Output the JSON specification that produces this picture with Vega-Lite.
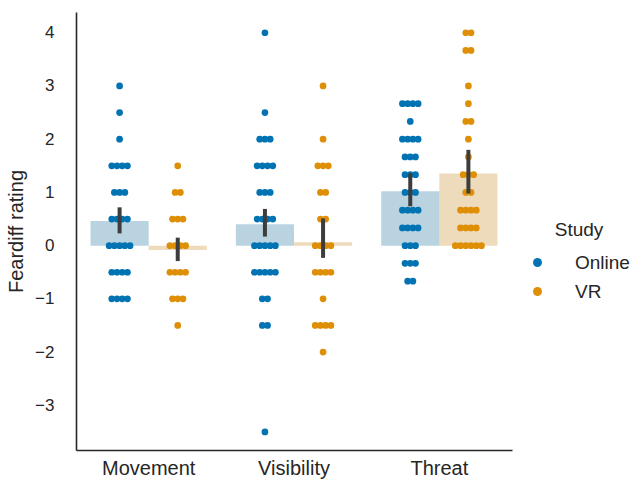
{
  "$schema": "https://vega.github.io/schema/vega-lite/v6.json",
  "width": 436,
  "height": 438,
  "autosize": "none",
  "padding": {"left": 76, "top": 12, "right": 122, "bottom": 29},
  "config": {
    "font": "Liberation Sans",
    "view": {"stroke": null},
    "axis": {"grid": false, "domainColor": "#262626", "domainWidth": 1.6, "ticks": false, "labelColor": "#262626", "titleColor": "#262626", "titleFontWeight": "normal"}
  },
  "datasets": {
    "errors": [
      {"category":"Movement","study":"Online","low":0.23,"high":0.72},
      {"category":"Movement","study":"VR","low":-0.29,"high":0.15},
      {"category":"Visibility","study":"Online","low":0.17,"high":0.69},
      {"category":"Visibility","study":"VR","low":-0.23,"high":0.51},
      {"category":"Threat","study":"Online","low":0.74,"high":1.36},
      {"category":"Threat","study":"VR","low":0.98,"high":1.8}
    ],
    "ratings": [
    {"category":"Movement","study":"Online","value":3},
    {"category":"Movement","study":"Online","value":2.5},
    {"category":"Movement","study":"Online","value":2},
    {"category":"Movement","study":"Online","value":1.5},
    {"category":"Movement","study":"Online","value":1.5},
    {"category":"Movement","study":"Online","value":1.5},
    {"category":"Movement","study":"Online","value":1.5},
    {"category":"Movement","study":"Online","value":1},
    {"category":"Movement","study":"Online","value":1},
    {"category":"Movement","study":"Online","value":1},
    {"category":"Movement","study":"Online","value":0.5},
    {"category":"Movement","study":"Online","value":0.5},
    {"category":"Movement","study":"Online","value":0.5},
    {"category":"Movement","study":"Online","value":0.5},
    {"category":"Movement","study":"Online","value":0},
    {"category":"Movement","study":"Online","value":0},
    {"category":"Movement","study":"Online","value":0},
    {"category":"Movement","study":"Online","value":0},
    {"category":"Movement","study":"Online","value":0},
    {"category":"Movement","study":"Online","value":-0.5},
    {"category":"Movement","study":"Online","value":-0.5},
    {"category":"Movement","study":"Online","value":-0.5},
    {"category":"Movement","study":"Online","value":-0.5},
    {"category":"Movement","study":"Online","value":-1},
    {"category":"Movement","study":"Online","value":-1},
    {"category":"Movement","study":"Online","value":-1},
    {"category":"Movement","study":"Online","value":-1},
    {"category":"Movement","study":"VR","value":1.5},
    {"category":"Movement","study":"VR","value":1},
    {"category":"Movement","study":"VR","value":1},
    {"category":"Movement","study":"VR","value":0.5},
    {"category":"Movement","study":"VR","value":0.5},
    {"category":"Movement","study":"VR","value":0.5},
    {"category":"Movement","study":"VR","value":0},
    {"category":"Movement","study":"VR","value":0},
    {"category":"Movement","study":"VR","value":0},
    {"category":"Movement","study":"VR","value":0},
    {"category":"Movement","study":"VR","value":-0.5},
    {"category":"Movement","study":"VR","value":-0.5},
    {"category":"Movement","study":"VR","value":-0.5},
    {"category":"Movement","study":"VR","value":-0.5},
    {"category":"Movement","study":"VR","value":-1},
    {"category":"Movement","study":"VR","value":-1},
    {"category":"Movement","study":"VR","value":-1},
    {"category":"Movement","study":"VR","value":-1.5},
    {"category":"Visibility","study":"Online","value":4},
    {"category":"Visibility","study":"Online","value":2.5},
    {"category":"Visibility","study":"Online","value":2},
    {"category":"Visibility","study":"Online","value":2},
    {"category":"Visibility","study":"Online","value":2},
    {"category":"Visibility","study":"Online","value":1.5},
    {"category":"Visibility","study":"Online","value":1.5},
    {"category":"Visibility","study":"Online","value":1.5},
    {"category":"Visibility","study":"Online","value":1.5},
    {"category":"Visibility","study":"Online","value":1},
    {"category":"Visibility","study":"Online","value":1},
    {"category":"Visibility","study":"Online","value":1},
    {"category":"Visibility","study":"Online","value":0.5},
    {"category":"Visibility","study":"Online","value":0.5},
    {"category":"Visibility","study":"Online","value":0.5},
    {"category":"Visibility","study":"Online","value":0.5},
    {"category":"Visibility","study":"Online","value":0},
    {"category":"Visibility","study":"Online","value":0},
    {"category":"Visibility","study":"Online","value":0},
    {"category":"Visibility","study":"Online","value":0},
    {"category":"Visibility","study":"Online","value":0},
    {"category":"Visibility","study":"Online","value":-0.5},
    {"category":"Visibility","study":"Online","value":-0.5},
    {"category":"Visibility","study":"Online","value":-0.5},
    {"category":"Visibility","study":"Online","value":-0.5},
    {"category":"Visibility","study":"Online","value":-0.5},
    {"category":"Visibility","study":"Online","value":-1},
    {"category":"Visibility","study":"Online","value":-1},
    {"category":"Visibility","study":"Online","value":-1.5},
    {"category":"Visibility","study":"Online","value":-1.5},
    {"category":"Visibility","study":"Online","value":-3.5},
    {"category":"Visibility","study":"VR","value":3},
    {"category":"Visibility","study":"VR","value":2},
    {"category":"Visibility","study":"VR","value":1.5},
    {"category":"Visibility","study":"VR","value":1.5},
    {"category":"Visibility","study":"VR","value":1.5},
    {"category":"Visibility","study":"VR","value":1},
    {"category":"Visibility","study":"VR","value":1},
    {"category":"Visibility","study":"VR","value":0.5},
    {"category":"Visibility","study":"VR","value":0.5},
    {"category":"Visibility","study":"VR","value":0},
    {"category":"Visibility","study":"VR","value":0},
    {"category":"Visibility","study":"VR","value":0},
    {"category":"Visibility","study":"VR","value":0},
    {"category":"Visibility","study":"VR","value":-0.5},
    {"category":"Visibility","study":"VR","value":-0.5},
    {"category":"Visibility","study":"VR","value":-0.5},
    {"category":"Visibility","study":"VR","value":-0.5},
    {"category":"Visibility","study":"VR","value":-1},
    {"category":"Visibility","study":"VR","value":-1.5},
    {"category":"Visibility","study":"VR","value":-1.5},
    {"category":"Visibility","study":"VR","value":-1.5},
    {"category":"Visibility","study":"VR","value":-1.5},
    {"category":"Visibility","study":"VR","value":-2},
    {"category":"Threat","study":"Online","value":2.667},
    {"category":"Threat","study":"Online","value":2.667},
    {"category":"Threat","study":"Online","value":2.667},
    {"category":"Threat","study":"Online","value":2.667},
    {"category":"Threat","study":"Online","value":2.333},
    {"category":"Threat","study":"Online","value":2},
    {"category":"Threat","study":"Online","value":2},
    {"category":"Threat","study":"Online","value":2},
    {"category":"Threat","study":"Online","value":2},
    {"category":"Threat","study":"Online","value":1.667},
    {"category":"Threat","study":"Online","value":1.667},
    {"category":"Threat","study":"Online","value":1.667},
    {"category":"Threat","study":"Online","value":1.333},
    {"category":"Threat","study":"Online","value":1.333},
    {"category":"Threat","study":"Online","value":1.333},
    {"category":"Threat","study":"Online","value":1},
    {"category":"Threat","study":"Online","value":1},
    {"category":"Threat","study":"Online","value":1},
    {"category":"Threat","study":"Online","value":0.667},
    {"category":"Threat","study":"Online","value":0.667},
    {"category":"Threat","study":"Online","value":0.667},
    {"category":"Threat","study":"Online","value":0.667},
    {"category":"Threat","study":"Online","value":0.333},
    {"category":"Threat","study":"Online","value":0.333},
    {"category":"Threat","study":"Online","value":0.333},
    {"category":"Threat","study":"Online","value":0.333},
    {"category":"Threat","study":"Online","value":0},
    {"category":"Threat","study":"Online","value":0},
    {"category":"Threat","study":"Online","value":0},
    {"category":"Threat","study":"Online","value":-0.333},
    {"category":"Threat","study":"Online","value":-0.333},
    {"category":"Threat","study":"Online","value":-0.333},
    {"category":"Threat","study":"Online","value":-0.667},
    {"category":"Threat","study":"Online","value":-0.667},
    {"category":"Threat","study":"VR","value":4},
    {"category":"Threat","study":"VR","value":4},
    {"category":"Threat","study":"VR","value":3.667},
    {"category":"Threat","study":"VR","value":3.667},
    {"category":"Threat","study":"VR","value":3},
    {"category":"Threat","study":"VR","value":2.667},
    {"category":"Threat","study":"VR","value":2.333},
    {"category":"Threat","study":"VR","value":2.333},
    {"category":"Threat","study":"VR","value":2},
    {"category":"Threat","study":"VR","value":1.667},
    {"category":"Threat","study":"VR","value":1.333},
    {"category":"Threat","study":"VR","value":1.333},
    {"category":"Threat","study":"VR","value":1.333},
    {"category":"Threat","study":"VR","value":1},
    {"category":"Threat","study":"VR","value":1},
    {"category":"Threat","study":"VR","value":0.667},
    {"category":"Threat","study":"VR","value":0.667},
    {"category":"Threat","study":"VR","value":0.667},
    {"category":"Threat","study":"VR","value":0.667},
    {"category":"Threat","study":"VR","value":0.333},
    {"category":"Threat","study":"VR","value":0.333},
    {"category":"Threat","study":"VR","value":0.333},
    {"category":"Threat","study":"VR","value":0.333},
    {"category":"Threat","study":"VR","value":0},
    {"category":"Threat","study":"VR","value":0},
    {"category":"Threat","study":"VR","value":0},
    {"category":"Threat","study":"VR","value":0},
    {"category":"Threat","study":"VR","value":0},
    {"category":"Threat","study":"VR","value":0}
    ]
  },
  "data": {"name": "ratings"},
  "encoding": {
    "x": {
      "field": "category", "type": "nominal",
      "sort": ["Movement", "Visibility", "Threat"],
      "scale": {"paddingInner": 0.2, "paddingOuter": 0.1},
      "axis": {"title": null, "labelAngle": 0, "labelFontSize": 20, "labelPadding": 8}
    }
  },
  "layer": [
    {
      "mark": {"type": "bar", "opacity": 0.3},
      "encoding": {
        "xOffset": {"field": "study", "type": "nominal", "scale": {"paddingInner": 0, "paddingOuter": 0}},
        "y": {
          "aggregate": "mean", "field": "value", "type": "quantitative",
          "scale": {"domain": [-3.84, 4.39], "nice": false, "zero": false},
          "axis": {"values": [-3, -2, -1, 0, 1, 2, 3, 4], "labelFontSize": 17, "labelPadding": 22, "title": "Feardiff rating", "titleFontSize": 20, "titlePadding": 8}
        },
        "color": {"field": "study", "type": "nominal", "scale": {"domain": ["Online", "VR"], "range": ["#176d9c", "#c38820"]}, "legend": null}
      }
    },
    {
      "transform": [
        {"window": [{"op": "row_number", "as": "rank"}, {"op": "count", "as": "n"}], "groupby": ["category", "study", "value"], "frame": [null, null]},
        {"calculate": "(datum.study === 'Online' ? -0.2 : 0.2) + (datum.rank - (datum.n + 1) / 2) * 0.036", "as": "off"}
      ],
      "mark": {"type": "circle", "size": 45, "opacity": 1},
      "encoding": {
        "xOffset": {"field": "off", "type": "quantitative", "scale": {"domain": [-0.4, 0.4]}},
        "y": {"field": "value", "type": "quantitative"},
        "color": {
          "field": "study", "type": "nominal",
          "scale": {"domain": ["Online", "VR"], "range": ["#0173b2", "#de8f05"]},
          "legend": {"title": "Study", "orient": "none", "legendX": 452, "legendY": 209, "titleFontSize": 19, "titleFontWeight": "normal", "titleColor": "#262626", "labelColor": "#262626", "labelFontSize": 19, "symbolType": "circle", "symbolSize": 80, "labelOffset": 28, "rowPadding": 9, "titlePadding": 13, "titleAnchor": "middle"}
        }
      }
    },
    {
      "data": {"name": "errors"},
      "mark": {"type": "rule", "color": "#3d3d3d", "strokeWidth": 4},
      "encoding": {
        "xOffset": {"field": "study", "type": "nominal", "scale": {"paddingInner": 0, "paddingOuter": 0}},
        "y": {"field": "low", "type": "quantitative"},
        "y2": {"field": "high"}
      }
    }
  ],
  "resolve": {"scale": {"xOffset": "independent", "color": "independent"}}
}
